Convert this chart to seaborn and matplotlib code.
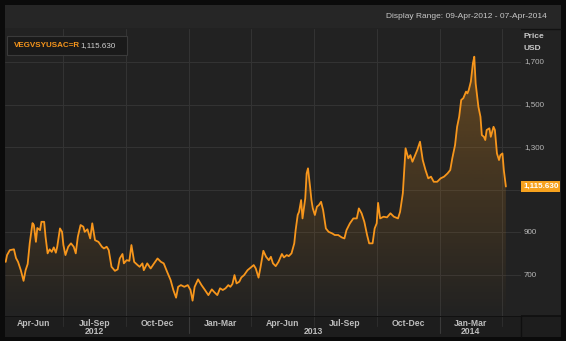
import numpy as np
import pandas as pd
import matplotlib
matplotlib.use("Agg")
import matplotlib.pyplot as plt
import matplotlib.dates as mdates
import matplotlib.transforms as mtransforms
from matplotlib.patches import Rectangle, PathPatch
from matplotlib.lines import Line2D
import seaborn as sns

# ---------------- data ----------------
start_date = "2012-04-09"
day_offset = [
    0, 2, 6, 12, 15, 18, 22, 26, 29, 32,
    35, 39, 41, 44, 46, 50, 52, 56, 58, 61,
    64, 67, 70, 73, 75, 79, 82, 84, 87, 91,
    95, 99, 102, 105, 109, 113, 115, 119, 123, 126,
    130, 135, 140, 143, 147, 150, 154, 159, 163, 166,
    170, 172, 176, 180, 183, 187, 192, 195, 199, 201,
    206, 211, 216, 221, 226, 230, 235, 240, 244, 248,
    251, 255, 260, 265, 269, 272, 275, 280, 285, 290,
    295, 300, 303, 308, 312, 316, 320, 324, 327, 330,
    333, 336, 340, 343, 347, 352, 357, 361, 364, 368,
    371, 375, 379, 383, 386, 389, 393, 397, 402, 405,
    409, 412, 416, 420, 422, 425, 427, 430, 432, 436,
    438, 440, 443, 445, 447, 450, 453, 456, 459, 462,
    466, 470, 475, 479, 484, 489, 493, 496, 501, 506,
    511, 514, 518, 522, 526, 529, 534, 537, 540, 542,
    545, 550, 555, 560, 565, 571, 574, 578, 582, 586,
    589, 592, 595, 599, 603, 607, 611, 615, 619, 623,
    628, 633, 638, 643, 647, 650, 654, 657, 660, 663,
    666, 670, 672, 674, 677, 680, 682, 684, 688, 691,
    693, 696, 698, 700, 704, 706, 710, 712, 715, 718,
    720, 723, 725, 728,
]
price = [
    762, 794, 817, 821, 780, 762, 723, 673, 723, 752,
    850, 944, 935, 856, 921, 911, 950, 950, 880, 802,
    821, 809, 830, 805, 833, 919, 903, 841, 794, 833,
    849, 833, 802, 880, 935, 927, 903, 915, 872, 943,
    864, 856, 833, 825, 833, 817, 739, 720, 727, 778,
    799, 755, 770, 767, 841, 762, 747, 739, 755, 723,
    755, 731, 755, 778, 762, 755, 715, 677, 630, 594,
    645, 653, 645, 653, 630, 580, 645, 680, 653, 630,
    606, 633, 622, 606, 638, 630, 638, 653, 645, 658,
    700, 661, 669, 689, 700, 723, 736, 747, 731, 688,
    739, 814, 786, 770, 786, 755, 742, 762, 799, 783,
    794, 789, 802, 849, 911, 982, 997, 1052, 966, 1060,
    1177, 1201, 1115, 1052, 1013, 982, 1021, 1029, 1044, 1005,
    919, 903, 896, 888, 888, 877, 872, 911, 943, 966,
    966, 1013, 990, 950, 888, 849, 849, 919, 943, 1039,
    966, 974, 971, 990, 974, 966, 997, 1084, 1295, 1248,
    1263, 1232, 1255, 1287, 1326, 1240, 1193, 1154, 1162, 1138,
    1138, 1154, 1162, 1177, 1193, 1248, 1310, 1396, 1443, 1522,
    1530, 1561, 1553, 1569, 1608, 1694, 1725, 1600, 1490, 1443,
    1357, 1349, 1334, 1381, 1389, 1349, 1396, 1381, 1271, 1240,
    1263, 1271, 1193, 1115.63,
]
ric = "VEGVSYUSAC=R"
last_label = "1,115.630"
display_range = "Display Range: 09-Apr-2012 - 07-Apr-2014"
y_ticks = [700, 900, 1100, 1300, 1500, 1700]
y_tick_labels = ["700", "900", "", "1,300", "1,500", "1,700"]
quarter_starts = ["2012-04-01", "2012-07-01", "2012-10-01", "2013-01-01", "2013-04-01",
                  "2013-07-01", "2013-10-01", "2014-01-01", "2014-04-01"]
quarter_labels = ["Apr-Jun", "Jul-Sep", "Oct-Dec", "Jan-Mar", "Apr-Jun",
                  "Jul-Sep", "Oct-Dec", "Jan-Mar"]
year_labels = ["2012", "2013", "2014"]
year_label_quarter = [1, 4, 7]   # index of quarter label the year sits under

assert len(day_offset) == len(price)

df = pd.DataFrame({
    "date": pd.to_datetime(start_date) + pd.to_timedelta(day_offset, unit="D"),
    "price": price,
})

# ---------------- style ----------------
sns.set_theme(style="dark")
plt.rcParams["font.family"] = ["Liberation Sans", "DejaVu Sans"]

W, H = 566, 341
def fx(x): return x / W
def fy(y): return 1 - y / H

ORANGE = "#f7961c"
BG = "#222222"

fig = plt.figure(figsize=(W / 100, H / 100), dpi=100, facecolor="#0b0b0b")

def frect(x0, y0, x1, y1, **kw):
    r = Rectangle((fx(x0), fy(y1)), fx(x1) - fx(x0), fy(y0) - fy(y1),
                  transform=fig.transFigure, **kw)
    fig.patches.append(r)
    return r

def fline(xs, ys, **kw):
    l = Line2D([fx(x) for x in xs], [fy(y) for y in ys], transform=fig.transFigure, **kw)
    fig.lines.append(l)

frect(5, 5, 561, 337, fc=BG, ec="none", zorder=-3)
frect(5, 5, 561, 29, fc="#262626", ec="none", zorder=-2)
frect(5, 316, 561, 337, fc="#1d1d1d", ec="none", zorder=-2)
fline([5, 561], [29, 29], color="#121212", lw=1.0, zorder=-1)
fline([5, 561], [316, 316], color="#0f0f0f", lw=1.2, zorder=-1)
fline([521, 521], [316, 337], color="#0f0f0f", lw=1.0, zorder=-1)

ax = fig.add_axes([fx(5), fy(316), fx(521) - fx(5), fy(29) - fy(316)])
ax.set_facecolor(BG)
for s in ax.spines.values():
    s.set_visible(False)

xmin = pd.Timestamp("2012-04-08")
xmax = pd.Timestamp("2014-04-29")
ymin, ymax = 508, 1855

# line via seaborn
sns.lineplot(data=df, x="date", y="price", ax=ax, color=ORANGE, linewidth=1.3,
             zorder=4, legend=False)

# gradient fill under the line
poly = ax.fill_between(df["date"], df["price"], ymin, facecolor="none", edgecolor="none")
clip = PathPatch(poly.get_paths()[0], transform=ax.transData, fc="none", ec="none")
ax.add_patch(clip)
grad = np.zeros((256, 1, 4))
grad[..., 0], grad[..., 1], grad[..., 2] = 0.96, 0.60, 0.12
grad[..., 3] = np.linspace(0.0, 0.34, 256)[:, None]
im = ax.imshow(grad, extent=[mdates.date2num(xmin), mdates.date2num(xmax), ymin, ymax],
               aspect="auto", origin="lower", zorder=2, interpolation="bilinear")
im.set_clip_path(clip)

ax.set_xlim(xmin, xmax)
ax.set_ylim(ymin, ymax)
q_dates = pd.to_datetime(quarter_starts)
ax.set_xticks(q_dates[1:])
ax.set_yticks(y_ticks)
ax.grid(True, color="#343434", lw=0.7)
ax.set_axisbelow(True)
ax.tick_params(length=0, labelleft=False, labelbottom=False)
ax.set_xlabel("")
ax.set_ylabel("")

# y tick labels on right
ty = mtransforms.blended_transform_factory(ax.transAxes, ax.transData)
xr = (524 - 5) / (521 - 5)
for v, lab in zip(y_ticks, y_tick_labels):
    if lab:
        ax.text(xr, v, lab, transform=ty, ha="left", va="center", fontsize=5.8,
                color="#b8b8b8", clip_on=False)
fig.text(fx(524), fy(36), "Price", ha="left", va="center", fontsize=6,
         fontweight="bold", color="#c8c8c8")
fig.text(fx(524), fy(48.5), "USD", ha="left", va="center", fontsize=6,
         fontweight="bold", color="#c8c8c8")

# current value tag
ax.text(1.004, price[-1], last_label, transform=ty, ha="left", va="center",
        fontsize=5.8, fontweight="bold", color="white", clip_on=False, zorder=6,
        bbox=dict(boxstyle="square,pad=0.22", fc="#f7a21e", ec="none"))

# quarter labels / year labels
tq = mtransforms.blended_transform_factory(ax.transData, fig.transFigure)
q_ends = list(q_dates[1:])
mids = []
for i, lab in enumerate(quarter_labels):
    a = max(q_dates[i], xmin)
    b = q_ends[i]
    mid = a + (b - a) / 2
    mids.append(mid)
    ax.text(mid, fy(323), lab, transform=tq, ha="center", va="center", fontsize=6.2,
            fontweight="bold", color="#bdbdbd", clip_on=False)
for yl, qi in zip(year_labels, year_label_quarter):
    m = mids[qi] if yl != "2013" else pd.Timestamp("2013-07-01")
    ax.text(m, fy(332), yl, transform=tq, ha="center", va="center", fontsize=6.2,
            fontweight="bold", color="#bdbdbd", clip_on=False)
for d in q_dates[1:]:
    big = d.month == 1
    ax.plot([d, d], [fy(317), fy(333 if big else 326)], transform=tq,
            color="#2c2c2c" if not big else "#3a3a3a", lw=0.8, clip_on=False)

# header text
fig.text(fx(547), fy(16), display_range, ha="right", va="center", fontsize=6,
         color="#c8c8c8")

# legend box
frect(7, 36, 127, 55, fc="#1a1a1a", ec="#3a3a3a", lw=0.8, zorder=5)
fig.text(fx(14), fy(45.5), ric, ha="left", va="center", fontsize=5.8,
         fontweight="bold", color=ORANGE, zorder=6)
fig.text(fx(80.5), fy(45.5), last_label, ha="left", va="center", fontsize=5.8,
         color="#d0d0d0", zorder=6)

fig.savefig("out.png", dpi=100, facecolor=fig.get_facecolor())
